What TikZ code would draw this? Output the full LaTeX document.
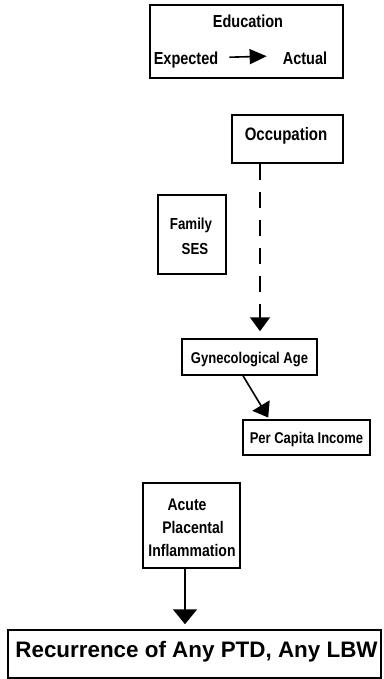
\documentclass[tikz,border=0pt]{standalone}
\usepackage{graphicx}
\usepackage{fontspec}
\setmainfont{Liberation Sans}
\usetikzlibrary{arrows.meta,calc}
\newcommand{\tl}[1]{\scalebox{1}[1.2]{#1}}
\begin{document}
\begin{tikzpicture}[x=1pt,y=-1pt,
  box/.style={draw, line width=1.5pt, inner sep=0pt, anchor=center},
  lbl/.style={inner sep=0pt, anchor=base},
  arr/.style={line width=1.6pt, -{Triangle[width=20pt,length=14pt]}}]
\useasboundingbox (0,0) rectangle (383,679);

% Education box
\node[box, minimum width=193pt, minimum height=73pt] (edu) at (246.5,41.5) {};
\node[lbl, font=\bfseries\fontsize{14.5}{17}\selectfont] (eduT) at (248,28) {\tl{Education}};
\node[lbl, font=\bfseries\fontsize{14.5}{17}\selectfont] (exp) at (186,65) {\tl{Expected}};
\node[lbl, font=\bfseries\fontsize{14.5}{17}\selectfont] (act) at (305,65) {\tl{Actual}};
\draw[line width=1.6pt, -{Triangle[width=15pt,length=17pt]}, shorten <=11pt, shorten >=16pt]
  ($(exp.east)+(0,-3)$) -- ($(act.west)+(0,-3)$);

% Occupation
\node[box, minimum width=111pt, minimum height=48pt] (occ) at (287.5,139) {};
\node[lbl, font=\bfseries\fontsize{15}{18}\selectfont] (occT) at (286,141) {\tl{Occupation}};

% Family SES
\node[box, minimum width=68pt, minimum height=79pt] (fam) at (192,234.5) {};
\node[lbl, font=\bfseries\fontsize{13.3}{16}\selectfont] (famT1) at (191,229) {\tl{Family}};
\node[lbl, font=\bfseries\fontsize{13.3}{16}\selectfont] (famT2) at (195,254) {\tl{SES}};

% Gynecological Age
\node[box, minimum width=135pt, minimum height=36pt] (gyn) at (249.5,357) {};
\node[lbl, font=\bfseries\fontsize{13}{16}\selectfont] (gynT) at (249.5,363) {\tl{Gynecological Age}};

% Per Capita Income
\node[box, minimum width=127pt, minimum height=35pt] (pci) at (306.5,437.5) {};
\node[lbl, font=\bfseries\fontsize{13}{16}\selectfont] (pciT) at (306.5,443) {\tl{Per Capita Income}};

% Acute Placental Inflammation
\node[box, minimum width=97pt, minimum height=85pt] (acu) at (191.5,525.5) {};
\node[lbl, font=\bfseries\fontsize{14}{17}\selectfont] (acuT1) at (187,510) {\tl{Acute}};
\node[lbl, font=\bfseries\fontsize{14}{17}\selectfont] (acuT2) at (193,533) {\tl{Placental}};
\node[lbl, font=\bfseries\fontsize{14}{17}\selectfont] (acuT3) at (192,556) {\tl{Inflammation}};

% Recurrence
\node[box, minimum width=373pt, minimum height=48pt] (rec) at (194.5,654) {};
\node[lbl, font=\bfseries\fontsize{22.4}{26}\selectfont] (recT) at (196.5,657) {Recurrence of Any PTD, Any LBW};

% connectors
\draw[arr, dash pattern=on 16pt off 12pt, shorten >=7pt]
  ($(occ.south)+(-27.5,0)$) -- ($(gyn.north)+(10.5,0)$);
\draw[arr, shorten >=2pt] ($(gyn.south)+(-6.5,0)$) -- ($(pci.north west)+(27,0)$);
\draw[arr, -{Triangle[width=24pt,length=15pt]}, shorten >=5pt] ($(acu.south)+(-6.5,0)$) -- ($(rec.north)+(-9.5,0)$);
\end{tikzpicture}
\end{document}
